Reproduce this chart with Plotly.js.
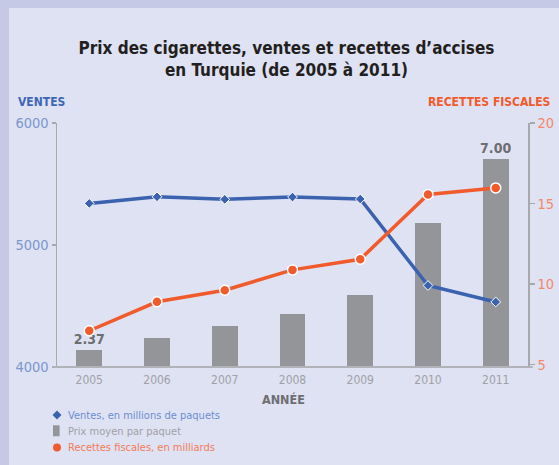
<!DOCTYPE html>
<html>
<head>
<meta charset="utf-8">
<script src="https://cdn.plot.ly/plotly-3.0.1.min.js"></script>
<style>
  html, body { margin: 0; padding: 0; background: #c5c9e5; width: 559px; height: 465px; overflow: hidden; }
  #chart { position: absolute; left: 9px; top: 8px; width: 550px; height: 457px; }
</style>
</head>
<body>
<div id="chart"></div>
<script>
// ---- Data ----
const years = ['2005', '2006', '2007', '2008', '2009', '2010', '2011'];
const ventes = [5341, 5395, 5374, 5393, 5377, 4668, 4533];          // millions de paquets
const prix = [2.37, 2.68, 2.97, 3.26, 3.72, 5.46, 7.00];            // prix moyen par paquet
const recettes = [7.10, 8.90, 9.62, 10.88, 11.54, 15.56, 15.97];    // milliards
const leftTicks = [4000, 5000, 6000];
const rightTicks = [5, 10, 15, 20];
const legendLabels = ['Ventes, en millions de paquets', 'Prix moyen par paquet', 'Recettes fiscales, en milliards'];

// ---- Layout helpers (pixel positions inside the chart div) ----
const W = 550, H = 457;
const M = { l: 47.7, r: 30.7, t: 114.7, b: 97.5 };
const PW = W - M.l - M.r, PH = H - M.t - M.b;
const px = X => (X - M.l) / PW;
const py = Y => (H - M.b - Y) / PH;

const FONT = '"DejaVu Sans Condensed", "Liberation Sans Narrow", sans-serif';
const BLUE = '#3a62af', ORANGE = '#f15a2b', BAR = '#939598', AXIS = '#a7a9ac';

const barText = prix.map((v, i) => (i === 0 || i === prix.length - 1) ? v.toFixed(2) : '');

const traces = [
  {
    type: 'bar', x: years, y: prix, xaxis: 'x', yaxis: 'y',
    marker: { color: BAR }, width: 0.38,
    text: barText, textposition: 'outside', cliponaxis: false, constraintext: 'none',
    textfont: { family: FONT, size: 14, color: '#6d6e71', weight: 'bold' },
    name: legendLabels[1], showlegend: false, hoverinfo: 'x+y'
  },
  {
    type: 'scatter', mode: 'lines+markers', x: years, y: ventes, xaxis: 'x', yaxis: 'y2',
    line: { color: BLUE, width: 3.5 },
    marker: { symbol: 'diamond', size: 7.5, color: BLUE, line: { color: '#ffffff', width: 1 } },
    name: legendLabels[0], showlegend: false, cliponaxis: false
  },
  {
    type: 'scatter', mode: 'lines+markers', x: years, y: recettes, xaxis: 'x', yaxis: 'y3',
    line: { color: ORANGE, width: 3.5 },
    marker: { symbol: 'circle', size: 10, color: ORANGE, line: { color: '#ffffff', width: 1.5 } },
    name: legendLabels[2], showlegend: false, cliponaxis: false
  }
];

const yCommon = { showgrid: false, zeroline: false, fixedrange: true };

const layout = {
  width: W, height: H,
  margin: M,
  paper_bgcolor: '#dfe2f3', plot_bgcolor: 'rgba(0,0,0,0)',
  showlegend: false,
  bargap: 0,
  title: {
    text: 'Prix des cigarettes, ventes et recettes d’accises<br>en Turquie (de 2005 à 2011)',
    font: { family: FONT, size: 17, color: '#231f20', weight: 'bold' },
    x: 277.5 / W, xref: 'container', xanchor: 'center',
    y: 1 - 46 / H, yref: 'container', yanchor: 'top'
  },
  xaxis: {
    type: 'category', range: [-0.476, 6.476], showline: false, showgrid: false, zeroline: false,
    ticks: 'outside', ticklen: 2, tickcolor: 'rgba(0,0,0,0)',
    tickfont: { family: FONT, size: 12, color: '#a0a1a5' }, fixedrange: true
  },
  yaxis: Object.assign({}, yCommon, { range: [1.97, 7.88], visible: false }),
  yaxis2: Object.assign({}, yCommon, {
    overlaying: 'y', side: 'left', anchor: 'x', range: [4000, 6000], tickvals: leftTicks,
    ticks: 'outside', ticklen: 4, tickwidth: 1.5, tickcolor: AXIS,
    showline: true, linecolor: AXIS, linewidth: 1.5,
    tickfont: { family: FONT, size: 14.5, color: '#7b96cf' }
  }),
  yaxis3: Object.assign({}, yCommon, {
    overlaying: 'y', side: 'right', anchor: 'x', range: [4.85, 20], tickvals: rightTicks,
    ticks: 'outside', ticklen: 5, tickwidth: 1.5, tickcolor: AXIS,
    showline: true, linecolor: AXIS, linewidth: 1.5,
    tickfont: { family: FONT, size: 14.5, color: '#f4886a' }
  }),
  yaxis4: Object.assign({}, yCommon, {
    overlaying: 'y', side: 'left', anchor: 'x', range: [4000, 6000], tickvals: leftTicks,
    ticks: 'inside', ticklen: 6, tickwidth: 1.5, tickcolor: AXIS, showticklabels: false, showline: false
  }),
  yaxis5: Object.assign({}, yCommon, {
    overlaying: 'y', side: 'right', anchor: 'x', range: [4.85, 20], tickvals: rightTicks,
    ticks: 'inside', ticklen: 5, tickwidth: 1.5, tickcolor: AXIS, showticklabels: false, showline: false
  }),
  shapes: [
    // extended x axis baseline
    { type: 'line', xref: 'paper', yref: 'paper', x0: px(43), x1: px(524), y0: 0, y1: 0,
      line: { color: '#b1b3b8', width: 2 }, layer: 'above' },
    // legend symbols
    { type: 'path', xref: 'paper', yref: 'paper', fillcolor: BLUE, line: { width: 0 },
      path: `M ${px(47.7 - 4.5)} ${py(407.7)} L ${px(47.7)} ${py(407.7 - 4.5)} L ${px(47.7 + 4.5)} ${py(407.7)} L ${px(47.7)} ${py(407.7 + 4.5)} Z` },
    { type: 'rect', xref: 'paper', yref: 'paper', fillcolor: BAR, line: { width: 0 },
      x0: px(43.7), x1: px(50.3), y0: py(429), y1: py(418) },
    { type: 'circle', xref: 'paper', yref: 'paper', fillcolor: ORANGE, line: { width: 0 },
      x0: px(43.7), x1: px(51.7), y0: py(444.3), y1: py(436.3) }
  ],
  annotations: [
    { text: 'VENTES', xref: 'paper', yref: 'paper', x: px(7), y: py(93.5), xanchor: 'left', yanchor: 'middle',
      showarrow: false, font: { family: FONT, size: 12, color: '#3d66b6', weight: 'bold' } },
    { text: 'RECETTES FISCALES', xref: 'paper', yref: 'paper', x: px(543.7), y: py(93.5), xanchor: 'right', yanchor: 'middle',
      showarrow: false, font: { family: FONT, size: 12, color: ORANGE, weight: 'bold' } },
    { text: 'ANNÉE', xref: 'paper', yref: 'paper', x: px(274), y: py(392), xanchor: 'center', yanchor: 'middle',
      showarrow: false, font: { family: FONT, size: 12.5, color: '#6d6e71', weight: 'bold' } },
    { text: legendLabels[0], xref: 'paper', yref: 'paper', x: px(57), y: py(408), xanchor: 'left', yanchor: 'middle',
      showarrow: false, font: { family: FONT, size: 11, color: '#6b8ed0' } },
    { text: legendLabels[1], xref: 'paper', yref: 'paper', x: px(57), y: py(424), xanchor: 'left', yanchor: 'middle',
      showarrow: false, font: { family: FONT, size: 11, color: '#a0a1a5' } },
    { text: legendLabels[2], xref: 'paper', yref: 'paper', x: px(57), y: py(440), xanchor: 'left', yanchor: 'middle',
      showarrow: false, font: { family: FONT, size: 11, color: '#f47b58' } }
  ]
};

Plotly.newPlot('chart', traces, layout, { displayModeBar: false, staticPlot: true });
</script>
</body>
</html>
